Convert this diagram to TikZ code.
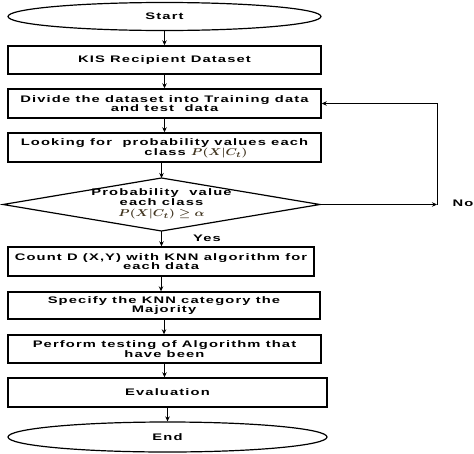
\documentclass[tikz,border=0pt]{standalone}
\usepackage{amsmath}
\usepackage{graphicx}
\usepackage{fontspec}
\setmainfont{Liberation Sans}[FakeStretch=1.55,LetterSpace=12]
\usetikzlibrary{shapes.geometric,arrows.meta}
\definecolor{mathbrown}{rgb}{0.26,0.21,0.13}
\newcommand{\bigmath}[1]{\textcolor{mathbrown}{\scalebox{1.4}[1.1]{\mathversion{bold}$#1$}}}
\begin{document}
\begin{tikzpicture}[x=1pt,y=-1pt,
  every node/.style={font=\fontsize{9.5}{9.5}\selectfont\bfseries, align=center, inner sep=0pt},
  procbox/.style={draw, line width=1.4pt, rectangle},
  term/.style={draw, line width=1.2pt, ellipse},
  decline/.style={draw, line width=1.2pt, line join=miter},
  conn/.style={line width=0.8pt, -{Stealth[length=5pt,width=4.5pt]}}]
\useasboundingbox (0,0) rectangle (474,453);
\node[term, minimum width=313pt, minimum height=28pt] (start) at (164.5,16.5) {Start};
\node[procbox, minimum width=313pt, minimum height=28pt] (kis) at (164.5,60) {KIS Recipient Dataset};
\node[procbox, minimum width=313pt, minimum height=29pt] (divide) at (164.5,103.5) {Divide the dataset into Training data\\and test\ \ data};
\node[procbox, minimum width=313pt, minimum height=29pt] (look) at (164.5,147.5) {};
\node (look1) at (164.5,143) {Looking for\ \ probability values each};
\node (look2) at (196,153.5) {class \bigmath{P(X|C_t)}};
% decision diamond
\coordinate (decN) at (161.5,178);
\coordinate (decS) at (161.5,231);
\coordinate (decW) at (3,204.5);
\coordinate (decE) at (320,204.5);
\draw[decline] (decN) -- (decE) -- (decS) -- (decW) -- cycle;
\node (dec) at (161.5,204) {Probability\ \ value\\each class\\[2pt]\bigmath{P(X|C_t)\geq\alpha}};
\node[procbox, minimum width=306pt, minimum height=29pt] (count) at (161,261.5) {Count D (X,Y) with KNN algorithm for\\each data};
\node[procbox, minimum width=312pt, minimum height=27pt] (spec) at (164,305.5) {Specify the KNN category the\\Majority};
\node[procbox, minimum width=313pt, minimum height=28pt] (perf) at (164.5,349) {Perform testing of Algorithm that\\have been};
\node[procbox, minimum width=319pt, minimum height=29pt] (eval) at (167.5,392.5) {Evaluation};
\node[term, minimum width=319pt, minimum height=30pt] (end) at (167.5,437) {End};
\node (yes) at (207,238.5) {Yes};
\node (no) at (463,203) {No};
\coordinate (cor) at (437,204.5);
\coordinate (top) at (437,103.5);
\draw[conn] (start.south) -- (start.south |- kis.north);
\draw[conn] (kis.south) -- (kis.south |- divide.north);
\draw[conn] (divide.south) -- (divide.south |- look.north);
\draw[conn] (look.south -| decN) -- (decN);
\draw[conn] (decS) -- (decS |- count.north);
\draw[conn] (count.south) -- (count.south |- spec.north);
\draw[conn] (spec.south) -- (spec.south |- perf.north);
\draw[conn] (perf.south) -- (perf.south |- eval.north);
\draw[conn] (eval.south) -- (eval.south |- end.north);
\draw[conn] (decE) -- (cor);
\draw[conn] (cor) -- (top) -- (divide.east);
\end{tikzpicture}
\end{document}
